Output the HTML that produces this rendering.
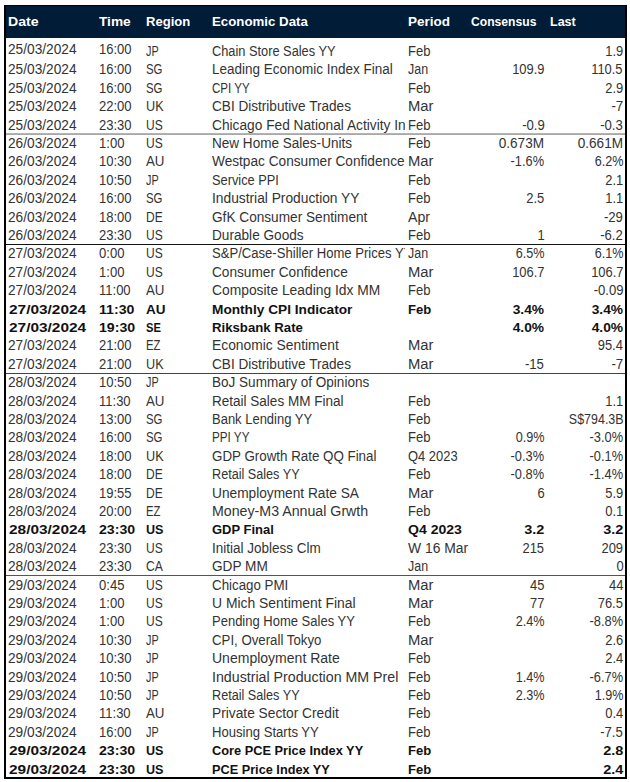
<!DOCTYPE html>
<html><head><meta charset="utf-8"><style>
html,body{margin:0;padding:0;background:#fff;}
body{width:630px;height:782px;position:relative;overflow:hidden;font-family:"Liberation Sans",sans-serif;color:#333;}
.t{position:absolute;white-space:pre;line-height:1;}
.clip{position:absolute;overflow:hidden;}
.ln{position:absolute;left:6px;width:619px;height:1px;}
#box{position:absolute;left:4px;top:5px;width:619px;height:771px;border-left:2px solid #000;border-right:2px solid #000;border-top:1px solid #000;border-bottom:2px solid #000;}
#hdr{position:absolute;left:6px;top:6px;width:619px;height:32px;background:#001c36;}
</style></head><body>
<div id="hdr"></div>
<div id="box"></div>
<div class="t" style="top:15.00px;font-size:13.2px;font-weight:bold;color:#fff;left:8.00px;transform:scaleX(1.0695);transform-origin:0 0;">Date</div>
<div class="t" style="top:15.00px;font-size:13.2px;font-weight:bold;color:#fff;left:98.80px;transform:scaleX(1.0352);transform-origin:0 0;">Time</div>
<div class="t" style="top:15.00px;font-size:13.2px;font-weight:bold;color:#fff;left:146.20px;transform:scaleX(0.9912);transform-origin:0 0;">Region</div>
<div class="t" style="top:15.00px;font-size:13.2px;font-weight:bold;color:#fff;left:212.00px;transform:scaleX(1.0055);transform-origin:0 0;">Economic Data</div>
<div class="t" style="top:15.00px;font-size:13.2px;font-weight:bold;color:#fff;left:407.70px;transform:scaleX(1.0230);transform-origin:0 0;">Period</div>
<div class="t" style="top:15.00px;font-size:13.2px;font-weight:bold;color:#fff;left:471.00px;transform:scaleX(0.9201);transform-origin:0 0;">Consensus</div>
<div class="t" style="top:15.00px;font-size:13.2px;font-weight:bold;color:#fff;left:549.80px;transform:scaleX(0.9492);transform-origin:0 0;">Last</div>
<div class="t" style="top:43.00px;font-size:13.8px;left:8.00px;transform:scaleX(0.9924);transform-origin:0 0;">25/03/2024</div>
<div class="t" style="top:43.00px;font-size:13.8px;left:98.80px;transform:scaleX(0.9437);transform-origin:0 0;">16:00</div>
<div class="t" style="top:45.00px;font-size:13.8px;left:146.00px;transform:scaleX(0.7859);transform-origin:0 0;">JP</div>
<div class="clip" style="left:210.0px;top:40px;width:195.0px;height:20px;"><div class="t" style="top:5.00px;font-size:13.8px;left:2.00px;transform:scaleX(0.9273);transform-origin:0 0;">Chain Store Sales YY</div></div>
<div class="t" style="top:45.00px;font-size:13.8px;left:407.90px;transform:scaleX(0.9445);transform-origin:0 0;">Feb</div>

<div class="t" style="top:45.00px;font-size:13.8px;left:604.02px;width:19.18px;transform:scaleX(0.9372);transform-origin:100% 0;">1.9</div>
<div class="t" style="top:63.00px;font-size:13.8px;left:8.00px;transform:scaleX(0.9924);transform-origin:0 0;">25/03/2024</div>
<div class="t" style="top:63.00px;font-size:13.8px;left:98.80px;transform:scaleX(0.9437);transform-origin:0 0;">16:00</div>
<div class="t" style="top:63.00px;font-size:13.8px;left:146.00px;transform:scaleX(0.8285);transform-origin:0 0;">SG</div>
<div class="clip" style="left:210.0px;top:58px;width:195.0px;height:20px;"><div class="t" style="top:5.00px;font-size:13.8px;left:2.00px;transform:scaleX(0.9772);transform-origin:0 0;">Leading Economic Index Final</div></div>
<div class="t" style="top:63.00px;font-size:13.8px;left:407.90px;transform:scaleX(0.9010);transform-origin:0 0;">Jan</div>
<div class="t" style="top:63.00px;font-size:13.8px;left:509.87px;width:34.53px;transform:scaleX(0.9374);transform-origin:100% 0;">109.9</div>
<div class="t" style="top:63.00px;font-size:13.8px;left:588.67px;width:34.53px;transform:scaleX(0.9374);transform-origin:100% 0;">110.5</div>
<div class="t" style="top:82.00px;font-size:13.8px;left:8.00px;transform:scaleX(0.9924);transform-origin:0 0;">25/03/2024</div>
<div class="t" style="top:82.00px;font-size:13.8px;left:98.80px;transform:scaleX(0.9437);transform-origin:0 0;">16:00</div>
<div class="t" style="top:82.00px;font-size:13.8px;left:146.00px;transform:scaleX(0.8285);transform-origin:0 0;">SG</div>
<div class="clip" style="left:210.0px;top:77px;width:195.0px;height:20px;"><div class="t" style="top:5.00px;font-size:13.8px;left:2.00px;transform:scaleX(0.8379);transform-origin:0 0;">CPI YY</div></div>
<div class="t" style="top:82.00px;font-size:13.8px;left:407.90px;transform:scaleX(0.9445);transform-origin:0 0;">Feb</div>

<div class="t" style="top:82.00px;font-size:13.8px;left:604.02px;width:19.18px;transform:scaleX(0.9372);transform-origin:100% 0;">2.9</div>
<div class="t" style="top:100.00px;font-size:13.8px;left:8.00px;transform:scaleX(0.9924);transform-origin:0 0;">25/03/2024</div>
<div class="t" style="top:100.00px;font-size:13.8px;left:98.80px;transform:scaleX(0.9437);transform-origin:0 0;">22:00</div>
<div class="t" style="top:100.00px;font-size:13.8px;left:146.00px;transform:scaleX(0.9176);transform-origin:0 0;">UK</div>
<div class="clip" style="left:210.0px;top:95px;width:195.0px;height:20px;"><div class="t" style="top:5.00px;font-size:13.8px;left:2.00px;transform:scaleX(0.9849);transform-origin:0 0;">CBI Distributive Trades</div></div>
<div class="t" style="top:100.00px;font-size:13.8px;left:407.90px;transform:scaleX(1.0726);transform-origin:0 0;">Mar</div>

<div class="t" style="top:100.00px;font-size:13.8px;left:610.93px;width:12.27px;transform:scaleX(0.9645);transform-origin:100% 0;">-7</div>
<div class="t" style="top:119.00px;font-size:13.8px;left:8.00px;transform:scaleX(0.9924);transform-origin:0 0;">25/03/2024</div>
<div class="t" style="top:119.00px;font-size:13.8px;left:98.80px;transform:scaleX(0.9437);transform-origin:0 0;">23:30</div>
<div class="t" style="top:119.00px;font-size:13.8px;left:146.00px;transform:scaleX(0.8702);transform-origin:0 0;">US</div>
<div class="clip" style="left:210.0px;top:114px;width:195.0px;height:20px;"><div class="t" style="top:5.00px;font-size:13.8px;left:2.00px;transform:scaleX(0.9940);transform-origin:0 0;">Chicago Fed National Activity Index</div></div>
<div class="t" style="top:119.00px;font-size:13.8px;left:407.90px;transform:scaleX(0.9445);transform-origin:0 0;">Feb</div>
<div class="t" style="top:119.00px;font-size:13.8px;left:520.62px;width:23.78px;transform:scaleX(0.9511);transform-origin:100% 0;">-0.9</div>
<div class="t" style="top:119.00px;font-size:13.8px;left:599.42px;width:23.78px;transform:scaleX(0.9511);transform-origin:100% 0;">-0.3</div>
<div class="t" style="top:137.00px;font-size:13.8px;left:8.00px;transform:scaleX(0.9924);transform-origin:0 0;">26/03/2024</div>
<div class="t" style="top:137.00px;font-size:13.8px;left:98.80px;transform:scaleX(0.9453);transform-origin:0 0;">1:00</div>
<div class="t" style="top:137.00px;font-size:13.8px;left:146.00px;transform:scaleX(0.8702);transform-origin:0 0;">US</div>
<div class="clip" style="left:210.0px;top:132px;width:195.0px;height:20px;"><div class="t" style="top:5.00px;font-size:13.8px;left:2.00px;transform:scaleX(0.9816);transform-origin:0 0;">New Home Sales-Units</div></div>
<div class="t" style="top:137.00px;font-size:13.8px;left:407.90px;transform:scaleX(0.9445);transform-origin:0 0;">Feb</div>
<div class="t" style="top:137.00px;font-size:13.8px;left:498.37px;width:46.03px;transform:scaleX(0.9847);transform-origin:100% 0;">0.673M</div>
<div class="t" style="top:137.00px;font-size:13.8px;left:577.17px;width:46.03px;transform:scaleX(0.9847);transform-origin:100% 0;">0.661M</div>
<div class="t" style="top:155.00px;font-size:13.8px;left:8.00px;transform:scaleX(0.9924);transform-origin:0 0;">26/03/2024</div>
<div class="t" style="top:155.00px;font-size:13.8px;left:98.80px;transform:scaleX(0.9437);transform-origin:0 0;">10:30</div>
<div class="t" style="top:155.00px;font-size:13.8px;left:146.00px;transform:scaleX(0.9643);transform-origin:0 0;">AU</div>
<div class="clip" style="left:210.0px;top:150px;width:195.0px;height:20px;"><div class="t" style="top:5.00px;font-size:13.8px;left:2.00px;transform:scaleX(0.9899);transform-origin:0 0;">Westpac Consumer Confidence</div></div>
<div class="t" style="top:155.00px;font-size:13.8px;left:407.90px;transform:scaleX(1.0726);transform-origin:0 0;">Mar</div>
<div class="t" style="top:155.00px;font-size:13.8px;left:508.35px;width:36.05px;transform:scaleX(0.9278);transform-origin:100% 0;">-1.6%</div>
<div class="t" style="top:155.00px;font-size:13.8px;left:591.75px;width:31.45px;transform:scaleX(0.9159);transform-origin:100% 0;">6.2%</div>
<div class="t" style="top:174.00px;font-size:13.8px;left:8.00px;transform:scaleX(0.9924);transform-origin:0 0;">26/03/2024</div>
<div class="t" style="top:174.00px;font-size:13.8px;left:98.80px;transform:scaleX(0.9437);transform-origin:0 0;">10:50</div>
<div class="t" style="top:174.00px;font-size:13.8px;left:146.00px;transform:scaleX(0.7859);transform-origin:0 0;">JP</div>
<div class="clip" style="left:210.0px;top:169px;width:195.0px;height:20px;"><div class="t" style="top:5.00px;font-size:13.8px;left:2.00px;transform:scaleX(0.9285);transform-origin:0 0;">Service PPI</div></div>
<div class="t" style="top:174.00px;font-size:13.8px;left:407.90px;transform:scaleX(0.9445);transform-origin:0 0;">Feb</div>

<div class="t" style="top:174.00px;font-size:13.8px;left:604.02px;width:19.18px;transform:scaleX(0.9372);transform-origin:100% 0;">2.1</div>
<div class="t" style="top:192.00px;font-size:13.8px;left:8.00px;transform:scaleX(0.9924);transform-origin:0 0;">26/03/2024</div>
<div class="t" style="top:192.00px;font-size:13.8px;left:98.80px;transform:scaleX(0.9437);transform-origin:0 0;">16:00</div>
<div class="t" style="top:192.00px;font-size:13.8px;left:146.00px;transform:scaleX(0.8285);transform-origin:0 0;">SG</div>
<div class="clip" style="left:210.0px;top:187px;width:195.0px;height:20px;"><div class="t" style="top:5.00px;font-size:13.8px;left:2.00px;transform:scaleX(0.9978);transform-origin:0 0;">Industrial Production YY</div></div>
<div class="t" style="top:192.00px;font-size:13.8px;left:407.90px;transform:scaleX(0.9445);transform-origin:0 0;">Feb</div>
<div class="t" style="top:192.00px;font-size:13.8px;left:525.22px;width:19.18px;transform:scaleX(0.9372);transform-origin:100% 0;">2.5</div>
<div class="t" style="top:192.00px;font-size:13.8px;left:604.02px;width:19.18px;transform:scaleX(0.9372);transform-origin:100% 0;">1.1</div>
<div class="t" style="top:211.00px;font-size:13.8px;left:8.00px;transform:scaleX(0.9924);transform-origin:0 0;">26/03/2024</div>
<div class="t" style="top:211.00px;font-size:13.8px;left:98.80px;transform:scaleX(0.9437);transform-origin:0 0;">18:00</div>
<div class="t" style="top:211.00px;font-size:13.8px;left:146.00px;transform:scaleX(0.8721);transform-origin:0 0;">DE</div>
<div class="clip" style="left:210.0px;top:206px;width:195.0px;height:20px;"><div class="t" style="top:5.00px;font-size:13.8px;left:2.00px;transform:scaleX(0.9885);transform-origin:0 0;">GfK Consumer Sentiment</div></div>
<div class="t" style="top:211.00px;font-size:13.8px;left:407.90px;transform:scaleX(1.0248);transform-origin:0 0;">Apr</div>

<div class="t" style="top:211.00px;font-size:13.8px;left:603.25px;width:19.95px;transform:scaleX(0.9542);transform-origin:100% 0;">-29</div>
<div class="t" style="top:229.00px;font-size:13.8px;left:8.00px;transform:scaleX(0.9924);transform-origin:0 0;">26/03/2024</div>
<div class="t" style="top:229.00px;font-size:13.8px;left:98.80px;transform:scaleX(0.9437);transform-origin:0 0;">23:30</div>
<div class="t" style="top:229.00px;font-size:13.8px;left:146.00px;transform:scaleX(0.8702);transform-origin:0 0;">US</div>
<div class="clip" style="left:210.0px;top:224px;width:195.0px;height:20px;"><div class="t" style="top:5.00px;font-size:13.8px;left:2.00px;transform:scaleX(0.9873);transform-origin:0 0;">Durable Goods</div></div>
<div class="t" style="top:229.00px;font-size:13.8px;left:407.90px;transform:scaleX(0.9445);transform-origin:0 0;">Feb</div>
<div class="t" style="top:229.00px;font-size:13.8px;left:536.73px;width:7.67px;transform:scaleX(0.9377);transform-origin:100% 0;">1</div>
<div class="t" style="top:229.00px;font-size:13.8px;left:599.42px;width:23.78px;transform:scaleX(0.9511);transform-origin:100% 0;">-6.2</div>
<div class="t" style="top:247.00px;font-size:13.8px;left:8.00px;transform:scaleX(0.9924);transform-origin:0 0;">27/03/2024</div>
<div class="t" style="top:247.00px;font-size:13.8px;left:98.80px;transform:scaleX(0.9453);transform-origin:0 0;">0:00</div>
<div class="t" style="top:247.00px;font-size:13.8px;left:146.00px;transform:scaleX(0.8702);transform-origin:0 0;">US</div>
<div class="clip" style="left:210.0px;top:242px;width:195.0px;height:20px;"><div class="t" style="top:5.00px;font-size:13.8px;left:2.00px;transform:scaleX(0.9485);transform-origin:0 0;">S&amp;P/Case-Shiller Home Prices YY</div></div>
<div class="t" style="top:247.00px;font-size:13.8px;left:407.90px;transform:scaleX(0.9010);transform-origin:0 0;">Jan</div>
<div class="t" style="top:247.00px;font-size:13.8px;left:512.95px;width:31.45px;transform:scaleX(0.9159);transform-origin:100% 0;">6.5%</div>
<div class="t" style="top:247.00px;font-size:13.8px;left:591.75px;width:31.45px;transform:scaleX(0.9159);transform-origin:100% 0;">6.1%</div>
<div class="t" style="top:266.00px;font-size:13.8px;left:8.00px;transform:scaleX(0.9924);transform-origin:0 0;">27/03/2024</div>
<div class="t" style="top:266.00px;font-size:13.8px;left:98.80px;transform:scaleX(0.9453);transform-origin:0 0;">1:00</div>
<div class="t" style="top:266.00px;font-size:13.8px;left:146.00px;transform:scaleX(0.8702);transform-origin:0 0;">US</div>
<div class="clip" style="left:210.0px;top:261px;width:195.0px;height:20px;"><div class="t" style="top:5.00px;font-size:13.8px;left:2.00px;transform:scaleX(0.9889);transform-origin:0 0;">Consumer Confidence</div></div>
<div class="t" style="top:266.00px;font-size:13.8px;left:407.90px;transform:scaleX(1.0726);transform-origin:0 0;">Mar</div>
<div class="t" style="top:266.00px;font-size:13.8px;left:509.87px;width:34.53px;transform:scaleX(0.9374);transform-origin:100% 0;">106.7</div>
<div class="t" style="top:266.00px;font-size:13.8px;left:588.67px;width:34.53px;transform:scaleX(0.9374);transform-origin:100% 0;">106.7</div>
<div class="t" style="top:284.00px;font-size:13.8px;left:8.00px;transform:scaleX(0.9924);transform-origin:0 0;">27/03/2024</div>
<div class="t" style="top:284.00px;font-size:13.8px;left:98.80px;transform:scaleX(0.9437);transform-origin:0 0;">11:00</div>
<div class="t" style="top:284.00px;font-size:13.8px;left:146.00px;transform:scaleX(0.9643);transform-origin:0 0;">AU</div>
<div class="clip" style="left:210.0px;top:279px;width:195.0px;height:20px;"><div class="t" style="top:5.00px;font-size:13.8px;left:2.00px;transform:scaleX(1.0022);transform-origin:0 0;">Composite Leading Idx MM</div></div>
<div class="t" style="top:284.00px;font-size:13.8px;left:407.90px;transform:scaleX(0.9445);transform-origin:0 0;">Feb</div>

<div class="t" style="top:284.00px;font-size:13.8px;left:591.75px;width:31.45px;transform:scaleX(0.9479);transform-origin:100% 0;">-0.09</div>
<div class="t" style="top:303.00px;font-size:13.2px;font-weight:bold;color:#111;left:8.60px;transform:scaleX(1.1678);transform-origin:0 0;">27/03/2024</div>
<div class="t" style="top:303.00px;font-size:13.2px;font-weight:bold;color:#111;left:98.80px;transform:scaleX(1.0711);transform-origin:0 0;">11:30</div>
<div class="t" style="top:303.00px;font-size:13.2px;font-weight:bold;color:#111;left:146.00px;transform:scaleX(1.0234);transform-origin:0 0;">AU</div>
<div class="clip" style="left:210.0px;top:298px;width:195.0px;height:20px;"><div class="t" style="top:5.00px;font-size:13.2px;font-weight:bold;color:#111;left:2.00px;transform:scaleX(1.0361);transform-origin:0 0;">Monthly CPI Indicator</div></div>
<div class="t" style="top:303.00px;font-size:13.2px;font-weight:bold;color:#111;left:407.90px;transform:scaleX(0.9901);transform-origin:0 0;">Feb</div>
<div class="t" style="top:303.00px;font-size:13.2px;font-weight:bold;color:#111;left:514.31px;width:30.09px;transform:scaleX(1.0439);transform-origin:100% 0;">3.4%</div>
<div class="t" style="top:303.00px;font-size:13.2px;font-weight:bold;color:#111;left:593.11px;width:30.09px;transform:scaleX(1.0439);transform-origin:100% 0;">3.4%</div>
<div class="t" style="top:321.00px;font-size:13.2px;font-weight:bold;color:#111;left:8.60px;transform:scaleX(1.1678);transform-origin:0 0;">27/03/2024</div>
<div class="t" style="top:321.00px;font-size:13.2px;font-weight:bold;color:#111;left:98.80px;transform:scaleX(1.0711);transform-origin:0 0;">19:30</div>
<div class="t" style="top:321.00px;font-size:13.2px;font-weight:bold;color:#111;left:146.00px;transform:scaleX(0.8454);transform-origin:0 0;">SE</div>
<div class="clip" style="left:210.0px;top:316px;width:195.0px;height:20px;"><div class="t" style="top:5.00px;font-size:13.2px;font-weight:bold;color:#111;left:2.00px;transform:scaleX(0.9997);transform-origin:0 0;">Riksbank Rate</div></div>

<div class="t" style="top:321.00px;font-size:13.2px;font-weight:bold;color:#111;left:514.31px;width:30.09px;transform:scaleX(1.0439);transform-origin:100% 0;">4.0%</div>
<div class="t" style="top:321.00px;font-size:13.2px;font-weight:bold;color:#111;left:593.11px;width:30.09px;transform:scaleX(1.0439);transform-origin:100% 0;">4.0%</div>
<div class="t" style="top:339.00px;font-size:13.8px;left:8.00px;transform:scaleX(0.9924);transform-origin:0 0;">27/03/2024</div>
<div class="t" style="top:339.00px;font-size:13.8px;left:98.80px;transform:scaleX(0.9437);transform-origin:0 0;">21:00</div>
<div class="t" style="top:339.00px;font-size:13.8px;left:146.00px;transform:scaleX(0.8218);transform-origin:0 0;">EZ</div>
<div class="clip" style="left:210.0px;top:334px;width:195.0px;height:20px;"><div class="t" style="top:5.00px;font-size:13.8px;left:2.00px;transform:scaleX(1.0022);transform-origin:0 0;">Economic Sentiment</div></div>
<div class="t" style="top:339.00px;font-size:13.8px;left:407.90px;transform:scaleX(1.0726);transform-origin:0 0;">Mar</div>

<div class="t" style="top:339.00px;font-size:13.8px;left:596.34px;width:26.86px;transform:scaleX(0.9373);transform-origin:100% 0;">95.4</div>
<div class="t" style="top:358.00px;font-size:13.8px;left:8.00px;transform:scaleX(0.9924);transform-origin:0 0;">27/03/2024</div>
<div class="t" style="top:358.00px;font-size:13.8px;left:98.80px;transform:scaleX(0.9437);transform-origin:0 0;">21:00</div>
<div class="t" style="top:358.00px;font-size:13.8px;left:146.00px;transform:scaleX(0.9176);transform-origin:0 0;">UK</div>
<div class="clip" style="left:210.0px;top:353px;width:195.0px;height:20px;"><div class="t" style="top:5.00px;font-size:13.8px;left:2.00px;transform:scaleX(0.9849);transform-origin:0 0;">CBI Distributive Trades</div></div>
<div class="t" style="top:358.00px;font-size:13.8px;left:407.90px;transform:scaleX(1.0726);transform-origin:0 0;">Mar</div>
<div class="t" style="top:358.00px;font-size:13.8px;left:524.45px;width:19.95px;transform:scaleX(0.9542);transform-origin:100% 0;">-15</div>
<div class="t" style="top:358.00px;font-size:13.8px;left:610.93px;width:12.27px;transform:scaleX(0.9645);transform-origin:100% 0;">-7</div>
<div class="t" style="top:376.00px;font-size:13.8px;left:8.00px;transform:scaleX(0.9924);transform-origin:0 0;">28/03/2024</div>
<div class="t" style="top:376.00px;font-size:13.8px;left:98.80px;transform:scaleX(0.9437);transform-origin:0 0;">10:50</div>
<div class="t" style="top:376.00px;font-size:13.8px;left:146.00px;transform:scaleX(0.7859);transform-origin:0 0;">JP</div>
<div class="clip" style="left:210.0px;top:371px;width:195.0px;height:20px;"><div class="t" style="top:5.00px;font-size:13.8px;left:2.00px;transform:scaleX(0.9810);transform-origin:0 0;">BoJ Summary of Opinions</div></div>



<div class="t" style="top:395.00px;font-size:13.8px;left:8.00px;transform:scaleX(0.9924);transform-origin:0 0;">28/03/2024</div>
<div class="t" style="top:395.00px;font-size:13.8px;left:98.80px;transform:scaleX(0.9437);transform-origin:0 0;">11:30</div>
<div class="t" style="top:395.00px;font-size:13.8px;left:146.00px;transform:scaleX(0.9643);transform-origin:0 0;">AU</div>
<div class="clip" style="left:210.0px;top:390px;width:195.0px;height:20px;"><div class="t" style="top:5.00px;font-size:13.8px;left:2.00px;transform:scaleX(0.9800);transform-origin:0 0;">Retail Sales MM Final</div></div>
<div class="t" style="top:395.00px;font-size:13.8px;left:407.90px;transform:scaleX(0.9445);transform-origin:0 0;">Feb</div>

<div class="t" style="top:395.00px;font-size:13.8px;left:604.02px;width:19.18px;transform:scaleX(0.9372);transform-origin:100% 0;">1.1</div>
<div class="t" style="top:413.00px;font-size:13.8px;left:8.00px;transform:scaleX(0.9924);transform-origin:0 0;">28/03/2024</div>
<div class="t" style="top:413.00px;font-size:13.8px;left:98.80px;transform:scaleX(0.9437);transform-origin:0 0;">13:00</div>
<div class="t" style="top:413.00px;font-size:13.8px;left:146.00px;transform:scaleX(0.8285);transform-origin:0 0;">SG</div>
<div class="clip" style="left:210.0px;top:408px;width:195.0px;height:20px;"><div class="t" style="top:5.00px;font-size:13.8px;left:2.00px;transform:scaleX(0.9410);transform-origin:0 0;">Bank Lending YY</div></div>
<div class="t" style="top:413.00px;font-size:13.8px;left:407.90px;transform:scaleX(0.9445);transform-origin:0 0;">Feb</div>

<div class="t" style="top:413.00px;font-size:13.8px;left:562.58px;width:60.62px;transform:scaleX(0.9036);transform-origin:100% 0;">S$794.3B</div>
<div class="t" style="top:431.00px;font-size:13.8px;left:8.00px;transform:scaleX(0.9924);transform-origin:0 0;">28/03/2024</div>
<div class="t" style="top:431.00px;font-size:13.8px;left:98.80px;transform:scaleX(0.9437);transform-origin:0 0;">16:00</div>
<div class="t" style="top:431.00px;font-size:13.8px;left:146.00px;transform:scaleX(0.8285);transform-origin:0 0;">SG</div>
<div class="clip" style="left:210.0px;top:426px;width:195.0px;height:20px;"><div class="t" style="top:5.00px;font-size:13.8px;left:2.00px;transform:scaleX(0.8466);transform-origin:0 0;">PPI YY</div></div>
<div class="t" style="top:431.00px;font-size:13.8px;left:407.90px;transform:scaleX(0.9445);transform-origin:0 0;">Feb</div>
<div class="t" style="top:431.00px;font-size:13.8px;left:512.95px;width:31.45px;transform:scaleX(0.9159);transform-origin:100% 0;">0.9%</div>
<div class="t" style="top:431.00px;font-size:13.8px;left:587.15px;width:36.05px;transform:scaleX(0.9278);transform-origin:100% 0;">-3.0%</div>
<div class="t" style="top:450.00px;font-size:13.8px;left:8.00px;transform:scaleX(0.9924);transform-origin:0 0;">28/03/2024</div>
<div class="t" style="top:450.00px;font-size:13.8px;left:98.80px;transform:scaleX(0.9437);transform-origin:0 0;">18:00</div>
<div class="t" style="top:450.00px;font-size:13.8px;left:146.00px;transform:scaleX(0.9176);transform-origin:0 0;">UK</div>
<div class="clip" style="left:210.0px;top:445px;width:195.0px;height:20px;"><div class="t" style="top:5.00px;font-size:13.8px;left:2.00px;transform:scaleX(0.9675);transform-origin:0 0;">GDP Growth Rate QQ Final</div></div>
<div class="t" style="top:450.00px;font-size:13.8px;left:407.90px;transform:scaleX(0.9369);transform-origin:0 0;">Q4 2023</div>
<div class="t" style="top:450.00px;font-size:13.8px;left:508.35px;width:36.05px;transform:scaleX(0.9278);transform-origin:100% 0;">-0.3%</div>
<div class="t" style="top:450.00px;font-size:13.8px;left:587.15px;width:36.05px;transform:scaleX(0.9278);transform-origin:100% 0;">-0.1%</div>
<div class="t" style="top:468.00px;font-size:13.8px;left:8.00px;transform:scaleX(0.9924);transform-origin:0 0;">28/03/2024</div>
<div class="t" style="top:468.00px;font-size:13.8px;left:98.80px;transform:scaleX(0.9437);transform-origin:0 0;">18:00</div>
<div class="t" style="top:468.00px;font-size:13.8px;left:146.00px;transform:scaleX(0.8721);transform-origin:0 0;">DE</div>
<div class="clip" style="left:210.0px;top:463px;width:195.0px;height:20px;"><div class="t" style="top:5.00px;font-size:13.8px;left:2.00px;transform:scaleX(0.9160);transform-origin:0 0;">Retail Sales YY</div></div>
<div class="t" style="top:468.00px;font-size:13.8px;left:407.90px;transform:scaleX(0.9445);transform-origin:0 0;">Feb</div>
<div class="t" style="top:468.00px;font-size:13.8px;left:508.35px;width:36.05px;transform:scaleX(0.9278);transform-origin:100% 0;">-0.8%</div>
<div class="t" style="top:468.00px;font-size:13.8px;left:587.15px;width:36.05px;transform:scaleX(0.9278);transform-origin:100% 0;">-1.4%</div>
<div class="t" style="top:487.00px;font-size:13.8px;left:8.00px;transform:scaleX(0.9924);transform-origin:0 0;">28/03/2024</div>
<div class="t" style="top:487.00px;font-size:13.8px;left:98.80px;transform:scaleX(0.9437);transform-origin:0 0;">19:55</div>
<div class="t" style="top:487.00px;font-size:13.8px;left:146.00px;transform:scaleX(0.8721);transform-origin:0 0;">DE</div>
<div class="clip" style="left:210.0px;top:482px;width:195.0px;height:20px;"><div class="t" style="top:5.00px;font-size:13.8px;left:2.00px;transform:scaleX(0.9927);transform-origin:0 0;">Unemployment Rate SA</div></div>
<div class="t" style="top:487.00px;font-size:13.8px;left:407.90px;transform:scaleX(1.0726);transform-origin:0 0;">Mar</div>
<div class="t" style="top:487.00px;font-size:13.8px;left:536.73px;width:7.67px;transform:scaleX(0.9377);transform-origin:100% 0;">6</div>
<div class="t" style="top:487.00px;font-size:13.8px;left:604.02px;width:19.18px;transform:scaleX(0.9372);transform-origin:100% 0;">5.9</div>
<div class="t" style="top:505.00px;font-size:13.8px;left:8.00px;transform:scaleX(0.9924);transform-origin:0 0;">28/03/2024</div>
<div class="t" style="top:505.00px;font-size:13.8px;left:98.80px;transform:scaleX(0.9437);transform-origin:0 0;">20:00</div>
<div class="t" style="top:505.00px;font-size:13.8px;left:146.00px;transform:scaleX(0.8218);transform-origin:0 0;">EZ</div>
<div class="clip" style="left:210.0px;top:500px;width:195.0px;height:20px;"><div class="t" style="top:5.00px;font-size:13.8px;left:2.00px;transform:scaleX(1.0288);transform-origin:0 0;">Money-M3 Annual Grwth</div></div>
<div class="t" style="top:505.00px;font-size:13.8px;left:407.90px;transform:scaleX(0.9445);transform-origin:0 0;">Feb</div>

<div class="t" style="top:505.00px;font-size:13.8px;left:604.02px;width:19.18px;transform:scaleX(0.9372);transform-origin:100% 0;">0.1</div>
<div class="t" style="top:523.00px;font-size:13.2px;font-weight:bold;color:#111;left:8.60px;transform:scaleX(1.1678);transform-origin:0 0;">28/03/2024</div>
<div class="t" style="top:523.00px;font-size:13.2px;font-weight:bold;color:#111;left:98.80px;transform:scaleX(1.0711);transform-origin:0 0;">23:30</div>
<div class="t" style="top:523.00px;font-size:13.2px;font-weight:bold;color:#111;left:146.00px;transform:scaleX(0.9514);transform-origin:0 0;">US</div>
<div class="clip" style="left:210.0px;top:518px;width:195.0px;height:20px;"><div class="t" style="top:5.00px;font-size:13.2px;font-weight:bold;color:#111;left:2.00px;transform:scaleX(0.9845);transform-origin:0 0;">GDP Final</div></div>
<div class="t" style="top:523.00px;font-size:13.2px;font-weight:bold;color:#111;left:407.90px;transform:scaleX(1.0648);transform-origin:0 0;">Q4 2023</div>
<div class="t" style="top:523.00px;font-size:13.2px;font-weight:bold;color:#111;left:526.05px;width:18.35px;transform:scaleX(1.0958);transform-origin:100% 0;">3.2</div>
<div class="t" style="top:523.00px;font-size:13.2px;font-weight:bold;color:#111;left:604.85px;width:18.35px;transform:scaleX(1.0958);transform-origin:100% 0;">3.2</div>
<div class="t" style="top:542.00px;font-size:13.8px;left:8.00px;transform:scaleX(0.9924);transform-origin:0 0;">28/03/2024</div>
<div class="t" style="top:542.00px;font-size:13.8px;left:98.80px;transform:scaleX(0.9437);transform-origin:0 0;">23:30</div>
<div class="t" style="top:542.00px;font-size:13.8px;left:146.00px;transform:scaleX(0.8702);transform-origin:0 0;">US</div>
<div class="clip" style="left:210.0px;top:537px;width:195.0px;height:20px;"><div class="t" style="top:5.00px;font-size:13.8px;left:2.00px;transform:scaleX(0.9774);transform-origin:0 0;">Initial Jobless Clm</div></div>
<div class="t" style="top:542.00px;font-size:13.8px;left:407.90px;transform:scaleX(1.0068);transform-origin:0 0;">W 16 Mar</div>
<div class="t" style="top:542.00px;font-size:13.8px;left:521.38px;width:23.02px;transform:scaleX(0.9377);transform-origin:100% 0;">215</div>
<div class="t" style="top:542.00px;font-size:13.8px;left:600.18px;width:23.02px;transform:scaleX(0.9377);transform-origin:100% 0;">209</div>
<div class="t" style="top:560.00px;font-size:13.8px;left:8.00px;transform:scaleX(0.9924);transform-origin:0 0;">28/03/2024</div>
<div class="t" style="top:560.00px;font-size:13.8px;left:98.80px;transform:scaleX(0.9437);transform-origin:0 0;">23:30</div>
<div class="t" style="top:560.00px;font-size:13.8px;left:146.00px;transform:scaleX(0.8786);transform-origin:0 0;">CA</div>
<div class="clip" style="left:210.0px;top:555px;width:195.0px;height:20px;"><div class="t" style="top:5.00px;font-size:13.8px;left:2.00px;transform:scaleX(0.9878);transform-origin:0 0;">GDP MM</div></div>
<div class="t" style="top:560.00px;font-size:13.8px;left:407.90px;transform:scaleX(0.9010);transform-origin:0 0;">Jan</div>

<div class="t" style="top:560.00px;font-size:13.8px;left:615.53px;width:7.67px;transform:scaleX(0.9377);transform-origin:100% 0;">0</div>
<div class="t" style="top:579.00px;font-size:13.8px;left:8.00px;transform:scaleX(0.9924);transform-origin:0 0;">29/03/2024</div>
<div class="t" style="top:579.00px;font-size:13.8px;left:98.80px;transform:scaleX(0.9453);transform-origin:0 0;">0:45</div>
<div class="t" style="top:579.00px;font-size:13.8px;left:146.00px;transform:scaleX(0.8702);transform-origin:0 0;">US</div>
<div class="clip" style="left:210.0px;top:574px;width:195.0px;height:20px;"><div class="t" style="top:5.00px;font-size:13.8px;left:2.00px;transform:scaleX(0.9661);transform-origin:0 0;">Chicago PMI</div></div>
<div class="t" style="top:579.00px;font-size:13.8px;left:407.90px;transform:scaleX(1.0726);transform-origin:0 0;">Mar</div>
<div class="t" style="top:579.00px;font-size:13.8px;left:529.05px;width:15.35px;transform:scaleX(0.9377);transform-origin:100% 0;">45</div>
<div class="t" style="top:579.00px;font-size:13.8px;left:607.85px;width:15.35px;transform:scaleX(0.9377);transform-origin:100% 0;">44</div>
<div class="t" style="top:597.00px;font-size:13.8px;left:8.00px;transform:scaleX(0.9924);transform-origin:0 0;">29/03/2024</div>
<div class="t" style="top:597.00px;font-size:13.8px;left:98.80px;transform:scaleX(0.9453);transform-origin:0 0;">1:00</div>
<div class="t" style="top:597.00px;font-size:13.8px;left:146.00px;transform:scaleX(0.8702);transform-origin:0 0;">US</div>
<div class="clip" style="left:210.0px;top:592px;width:195.0px;height:20px;"><div class="t" style="top:5.00px;font-size:13.8px;left:2.00px;transform:scaleX(1.0067);transform-origin:0 0;">U Mich Sentiment Final</div></div>
<div class="t" style="top:597.00px;font-size:13.8px;left:407.90px;transform:scaleX(1.0726);transform-origin:0 0;">Mar</div>
<div class="t" style="top:597.00px;font-size:13.8px;left:529.05px;width:15.35px;transform:scaleX(0.9377);transform-origin:100% 0;">77</div>
<div class="t" style="top:597.00px;font-size:13.8px;left:596.34px;width:26.86px;transform:scaleX(0.9373);transform-origin:100% 0;">76.5</div>
<div class="t" style="top:615.00px;font-size:13.8px;left:8.00px;transform:scaleX(0.9924);transform-origin:0 0;">29/03/2024</div>
<div class="t" style="top:615.00px;font-size:13.8px;left:98.80px;transform:scaleX(0.9453);transform-origin:0 0;">1:00</div>
<div class="t" style="top:615.00px;font-size:13.8px;left:146.00px;transform:scaleX(0.8702);transform-origin:0 0;">US</div>
<div class="clip" style="left:210.0px;top:610px;width:195.0px;height:20px;"><div class="t" style="top:5.00px;font-size:13.8px;left:2.00px;transform:scaleX(0.9423);transform-origin:0 0;">Pending Home Sales YY</div></div>
<div class="t" style="top:615.00px;font-size:13.8px;left:407.90px;transform:scaleX(0.9445);transform-origin:0 0;">Feb</div>
<div class="t" style="top:615.00px;font-size:13.8px;left:512.95px;width:31.45px;transform:scaleX(0.9159);transform-origin:100% 0;">2.4%</div>
<div class="t" style="top:615.00px;font-size:13.8px;left:587.15px;width:36.05px;transform:scaleX(0.9278);transform-origin:100% 0;">-8.8%</div>
<div class="t" style="top:634.00px;font-size:13.8px;left:8.00px;transform:scaleX(0.9924);transform-origin:0 0;">29/03/2024</div>
<div class="t" style="top:634.00px;font-size:13.8px;left:98.80px;transform:scaleX(0.9437);transform-origin:0 0;">10:30</div>
<div class="t" style="top:634.00px;font-size:13.8px;left:146.00px;transform:scaleX(0.7859);transform-origin:0 0;">JP</div>
<div class="clip" style="left:210.0px;top:629px;width:195.0px;height:20px;"><div class="t" style="top:5.00px;font-size:13.8px;left:2.00px;transform:scaleX(0.9596);transform-origin:0 0;">CPI, Overall Tokyo</div></div>
<div class="t" style="top:634.00px;font-size:13.8px;left:407.90px;transform:scaleX(1.0726);transform-origin:0 0;">Mar</div>

<div class="t" style="top:634.00px;font-size:13.8px;left:604.02px;width:19.18px;transform:scaleX(0.9372);transform-origin:100% 0;">2.6</div>
<div class="t" style="top:652.00px;font-size:13.8px;left:8.00px;transform:scaleX(0.9924);transform-origin:0 0;">29/03/2024</div>
<div class="t" style="top:652.00px;font-size:13.8px;left:98.80px;transform:scaleX(0.9437);transform-origin:0 0;">10:30</div>
<div class="t" style="top:652.00px;font-size:13.8px;left:146.00px;transform:scaleX(0.7859);transform-origin:0 0;">JP</div>
<div class="clip" style="left:210.0px;top:647px;width:195.0px;height:20px;"><div class="t" style="top:5.00px;font-size:13.8px;left:2.00px;transform:scaleX(1.0160);transform-origin:0 0;">Unemployment Rate</div></div>
<div class="t" style="top:652.00px;font-size:13.8px;left:407.90px;transform:scaleX(0.9445);transform-origin:0 0;">Feb</div>

<div class="t" style="top:652.00px;font-size:13.8px;left:604.02px;width:19.18px;transform:scaleX(0.9372);transform-origin:100% 0;">2.4</div>
<div class="t" style="top:671.00px;font-size:13.8px;left:8.00px;transform:scaleX(0.9924);transform-origin:0 0;">29/03/2024</div>
<div class="t" style="top:671.00px;font-size:13.8px;left:98.80px;transform:scaleX(0.9437);transform-origin:0 0;">10:50</div>
<div class="t" style="top:671.00px;font-size:13.8px;left:146.00px;transform:scaleX(0.7859);transform-origin:0 0;">JP</div>
<div class="clip" style="left:210.0px;top:666px;width:195.0px;height:20px;"><div class="t" style="top:5.00px;font-size:13.8px;left:2.00px;transform:scaleX(1.0299);transform-origin:0 0;">Industrial Production MM Prel</div></div>
<div class="t" style="top:671.00px;font-size:13.8px;left:407.90px;transform:scaleX(0.9445);transform-origin:0 0;">Feb</div>
<div class="t" style="top:671.00px;font-size:13.8px;left:512.95px;width:31.45px;transform:scaleX(0.9159);transform-origin:100% 0;">1.4%</div>
<div class="t" style="top:671.00px;font-size:13.8px;left:587.15px;width:36.05px;transform:scaleX(0.9278);transform-origin:100% 0;">-6.7%</div>
<div class="t" style="top:689.00px;font-size:13.8px;left:8.00px;transform:scaleX(0.9924);transform-origin:0 0;">29/03/2024</div>
<div class="t" style="top:689.00px;font-size:13.8px;left:98.80px;transform:scaleX(0.9437);transform-origin:0 0;">10:50</div>
<div class="t" style="top:689.00px;font-size:13.8px;left:146.00px;transform:scaleX(0.7859);transform-origin:0 0;">JP</div>
<div class="clip" style="left:210.0px;top:684px;width:195.0px;height:20px;"><div class="t" style="top:5.00px;font-size:13.8px;left:2.00px;transform:scaleX(0.9160);transform-origin:0 0;">Retail Sales YY</div></div>
<div class="t" style="top:689.00px;font-size:13.8px;left:407.90px;transform:scaleX(0.9445);transform-origin:0 0;">Feb</div>
<div class="t" style="top:689.00px;font-size:13.8px;left:512.95px;width:31.45px;transform:scaleX(0.9159);transform-origin:100% 0;">2.3%</div>
<div class="t" style="top:689.00px;font-size:13.8px;left:591.75px;width:31.45px;transform:scaleX(0.9159);transform-origin:100% 0;">1.9%</div>
<div class="t" style="top:707.00px;font-size:13.8px;left:8.00px;transform:scaleX(0.9924);transform-origin:0 0;">29/03/2024</div>
<div class="t" style="top:707.00px;font-size:13.8px;left:98.80px;transform:scaleX(0.9437);transform-origin:0 0;">11:30</div>
<div class="t" style="top:707.00px;font-size:13.8px;left:146.00px;transform:scaleX(0.9643);transform-origin:0 0;">AU</div>
<div class="clip" style="left:210.0px;top:702px;width:195.0px;height:20px;"><div class="t" style="top:5.00px;font-size:13.8px;left:2.00px;transform:scaleX(0.9960);transform-origin:0 0;">Private Sector Credit</div></div>
<div class="t" style="top:707.00px;font-size:13.8px;left:407.90px;transform:scaleX(0.9445);transform-origin:0 0;">Feb</div>

<div class="t" style="top:707.00px;font-size:13.8px;left:604.02px;width:19.18px;transform:scaleX(0.9372);transform-origin:100% 0;">0.4</div>
<div class="t" style="top:726.00px;font-size:13.8px;left:8.00px;transform:scaleX(0.9924);transform-origin:0 0;">29/03/2024</div>
<div class="t" style="top:726.00px;font-size:13.8px;left:98.80px;transform:scaleX(0.9437);transform-origin:0 0;">16:00</div>
<div class="t" style="top:726.00px;font-size:13.8px;left:146.00px;transform:scaleX(0.7859);transform-origin:0 0;">JP</div>
<div class="clip" style="left:210.0px;top:721px;width:195.0px;height:20px;"><div class="t" style="top:5.00px;font-size:13.8px;left:2.00px;transform:scaleX(0.9496);transform-origin:0 0;">Housing Starts YY</div></div>
<div class="t" style="top:726.00px;font-size:13.8px;left:407.90px;transform:scaleX(0.9445);transform-origin:0 0;">Feb</div>

<div class="t" style="top:726.00px;font-size:13.8px;left:599.42px;width:23.78px;transform:scaleX(0.9511);transform-origin:100% 0;">-7.5</div>
<div class="t" style="top:744.00px;font-size:13.2px;font-weight:bold;color:#111;left:8.60px;transform:scaleX(1.1678);transform-origin:0 0;">29/03/2024</div>
<div class="t" style="top:744.00px;font-size:13.2px;font-weight:bold;color:#111;left:98.80px;transform:scaleX(1.0711);transform-origin:0 0;">23:30</div>
<div class="t" style="top:744.00px;font-size:13.2px;font-weight:bold;color:#111;left:146.00px;transform:scaleX(0.9514);transform-origin:0 0;">US</div>
<div class="clip" style="left:210.0px;top:739px;width:195.0px;height:20px;"><div class="t" style="top:5.00px;font-size:13.2px;font-weight:bold;color:#111;left:2.00px;transform:scaleX(0.9698);transform-origin:0 0;">Core PCE Price Index YY</div></div>
<div class="t" style="top:744.00px;font-size:13.2px;font-weight:bold;color:#111;left:407.90px;transform:scaleX(0.9901);transform-origin:0 0;">Feb</div>

<div class="t" style="top:744.00px;font-size:13.2px;font-weight:bold;color:#111;left:604.85px;width:18.35px;transform:scaleX(1.0958);transform-origin:100% 0;">2.8</div>
<div class="t" style="top:763.00px;font-size:13.2px;font-weight:bold;color:#111;left:8.60px;transform:scaleX(1.1678);transform-origin:0 0;">29/03/2024</div>
<div class="t" style="top:763.00px;font-size:13.2px;font-weight:bold;color:#111;left:98.80px;transform:scaleX(1.0711);transform-origin:0 0;">23:30</div>
<div class="t" style="top:763.00px;font-size:13.2px;font-weight:bold;color:#111;left:146.00px;transform:scaleX(0.9514);transform-origin:0 0;">US</div>
<div class="clip" style="left:210.0px;top:758px;width:195.0px;height:20px;"><div class="t" style="top:5.00px;font-size:13.2px;font-weight:bold;color:#111;left:2.00px;transform:scaleX(0.9646);transform-origin:0 0;">PCE Price Index YY</div></div>
<div class="t" style="top:763.00px;font-size:13.2px;font-weight:bold;color:#111;left:407.90px;transform:scaleX(0.9901);transform-origin:0 0;">Feb</div>

<div class="t" style="top:763.00px;font-size:13.2px;font-weight:bold;color:#111;left:604.85px;width:18.35px;transform:scaleX(1.0958);transform-origin:100% 0;">2.4</div>
<div class="ln" style="top:133px;background:#b4b4b4"></div>
<div class="ln" style="top:134px;background:#a8a8a8"></div>
<div class="ln" style="top:244px;background:#141414"></div>
<div class="ln" style="top:373px;background:#444"></div>
<div class="ln" style="top:575px;background:#555"></div>
</body></html>
